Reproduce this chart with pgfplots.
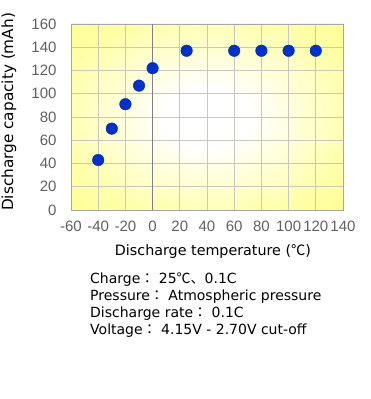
\documentclass[border=0pt]{standalone}
\usepackage{fontspec}
\usepackage{pgfplots}
\pgfplotsset{compat=1.18}
\setmainfont{DejaVu Sans}
\newfontfamily\tickfont{Liberation Sans}
\newfontfamily\cjk{Noto Sans CJK JP}
\definecolor{tickgray}{HTML}{606060}
\definecolor{gridgray}{HTML}{C8C8C0}
\definecolor{dotblue}{HTML}{0030C8}
\definecolor{bgyellow}{HTML}{FFFF60}
\pgfdeclareradialshading{bgshade}{\pgfpoint{0bp}{0bp}}{color(0bp)=(white); color(8bp)=(white); color(28bp)=(bgyellow!55!white); color(50bp)=(bgyellow!92!white); color(72bp)=(bgyellow)}
\begin{document}
\begin{tikzpicture}[x=1pt,y=1pt]
\path[use as bounding box] (0,0) rectangle (370,399);
\begin{axis}[
  at={(71pt,189pt)}, anchor=south west,
  scale only axis, width=272pt, height=186pt,
  xmin=-60, xmax=140, ymin=0, ymax=160,
  xtick={-60,-40,...,140}, ytick={0,20,...,160},
  grid=major,
  major grid style={gridgray, line width=0.8pt},
  axis line style={gray!70, line width=0.8pt},
  major tick length=0pt,
  tick label style={font=\tickfont\fontsize{15}{15}\selectfont, text=tickgray},
  /pgf/number format/assume math mode=true,
  yticklabel style={xshift=-11pt},
  xticklabel style={yshift=-7pt},
  axis background/.style={shading=bgshade},
  clip=false,
]
\draw[gray, line width=1pt] (axis cs:0,0) -- (axis cs:0,160);
\addplot[only marks, mark=*, mark size=5.8pt, mark options={fill=dotblue, draw=dotblue}] coordinates {
(-40,43) (-30,70) (-20,91) (-10,107) (0,122) (25,137) (60,137) (80,137) (100,137) (120,137)
};
\end{axis}
\node[rotate=90, font=\fontsize{15.3}{15.3}\selectfont] at (9,287) {Discharge capacity (mAh)};
\node[font=\fontsize{14.3}{14.3}\selectfont] at (213,147) {Discharge temperature ({\cjk ℃})};
\node[anchor=north west, align=left, inner sep=0pt, font=\fontsize{14}{17}\selectfont] at (90,126) {%
Charge{\cjk ：} 25{\cjk ℃、}0.1C\\
Pressure{\cjk ：} Atmospheric pressure\\
Discharge rate{\cjk ：} 0.1C\\
Voltage{\cjk ：} 4.15V - 2.70V cut-off};
\end{tikzpicture}
\end{document}
